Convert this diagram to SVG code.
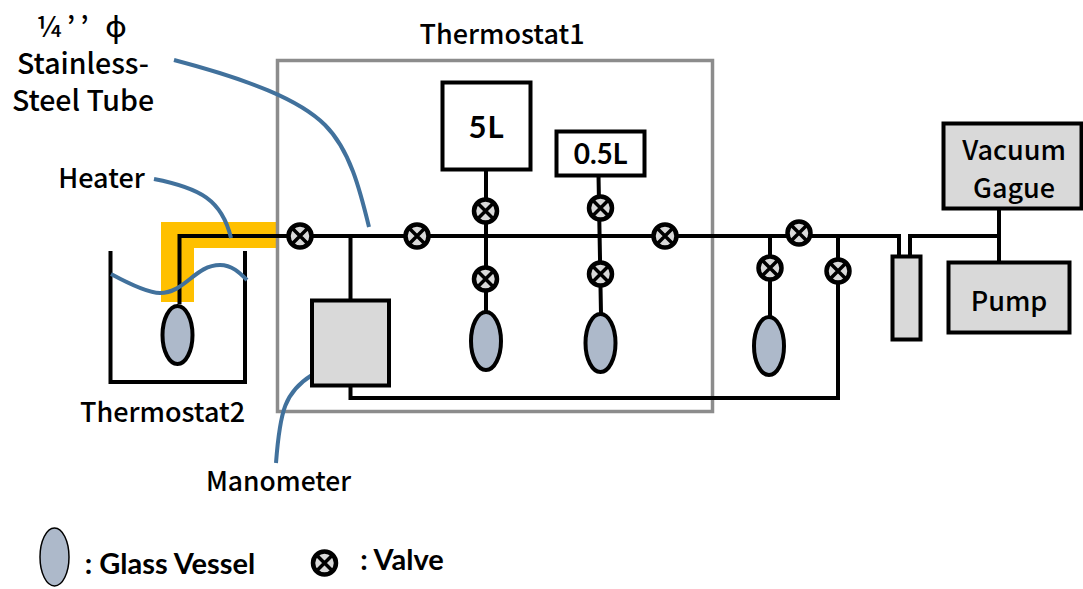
<svg xmlns="http://www.w3.org/2000/svg" width="1083" height="589" viewBox="0 0 1083 589">
<style>
.t{font-family:"Noto Sans CJK JP","Noto Sans",sans-serif;font-weight:500;font-size:27px;fill:#000;text-anchor:middle}
.s{font-size:28.5px}
.c{font-family:Lato,"Open Sans",sans-serif;font-weight:700;font-size:29px;fill:#000;text-anchor:middle}
.w{fill:none;stroke:#000;stroke-width:4}
.b{fill:#d9d9d9;stroke:#000;stroke-width:4}
.o{fill:#fff;stroke:#000;stroke-width:4}
.v{fill:#adb9ca;stroke:#000;stroke-width:4}
.l{fill:none;stroke:#41719c;stroke-width:4}
</style>
<defs>
<g id="valve"><circle r="11.5" fill="#d9d9d9" stroke="#000" stroke-width="4.500"/><path d="M-7-7L7 7M7-7L-7 7" stroke="#000" stroke-width="3.500" fill="none"/></g>
</defs>
<g id="heater"><path d="M161 222H276V248H194V302H161Z" fill="#ffc000"/></g>
<g id="thermostat1"><rect x="277.500" y="60.500" width="435" height="351" fill="none" stroke="#8c8c8c" stroke-width="3.500"/><text class="t" x="502" y="44">Thermostat1</text></g>
<g id="thermostat2"><path class="w" d="M110.500 251V382H245V251"/><text class="t" x="162.500" y="422">Thermostat2</text></g>
<g id="connectors">
<path class="w" d="M179.500 304V236H899V256M910 256V236H999"/>
<path class="w" d="M350.500 236V300M350.500 386V398H838V236"/>
<path class="w" d="M486 169V312M598.500 175L601 314M770 236V317M999 208V262"/>
</g>
<g id="leaders">
<path class="l" d="M174 60C250 80 300 100 325 125C350 150 360 190 369 227"/>
<path class="l" d="M154 179C200 188 222 200 231 238"/>
<path class="l" d="M111 274C135 287 150 293 160 293C185 293 195 265 220 265C232 265 240 273 247 280"/>
<path class="l" d="M312 375C285 392 280 410 276 463"/>
</g>
<g id="tube-label"><text class="t s" x="84" y="37" style="letter-spacing:5px">¼’’ ϕ</text><text class="t s" x="83" y="74">Stainless-</text><text class="t s" x="83" y="111">Steel Tube</text></g>
<g id="heater-label"><text class="t" x="101.500" y="188">Heater</text></g>
<g id="manometer"><rect class="b" x="312" y="300.500" width="77" height="85"/><text class="t" x="278.500" y="491" style="font-size:26.400px">Manometer</text></g>
<g id="tank-5l"><rect class="o" x="442.500" y="82.500" width="88" height="87"/><text class="c" x="486.500" y="138" style="font-size:31px;letter-spacing:1px">5L</text></g>
<g id="tank-05l"><rect class="o" x="556.500" y="131.500" width="88" height="44"/><text class="c" x="600.500" y="164" style="font-size:28px">0.5L</text></g>
<g id="vacuum-gauge"><rect class="b" x="943.500" y="123.500" width="138" height="85"/><text class="t" x="1014" y="160">Vacuum</text><text class="t" x="1014" y="198">Gague</text></g>
<g id="pump"><rect class="b" x="948.500" y="262.500" width="121" height="70"/><text class="t" x="1009" y="311">Pump</text></g>
<g id="trap"><rect class="b" x="892.500" y="256.500" width="28" height="83"/></g>
<g id="vessels">
<ellipse class="v" cx="177.500" cy="335" rx="15" ry="29"/>
<ellipse class="v" cx="486" cy="341" rx="15" ry="29"/>
<ellipse class="v" cx="600.500" cy="343" rx="15" ry="29"/>
<ellipse class="v" cx="769" cy="346" rx="15" ry="29"/>
</g>
<g id="valves">
<use href="#valve" x="300" y="236"/>
<use href="#valve" x="417" y="236"/>
<use href="#valve" x="485.500" y="211"/>
<use href="#valve" x="485.500" y="279"/>
<use href="#valve" x="600.500" y="208"/>
<use href="#valve" x="600.500" y="274"/>
<use href="#valve" x="665" y="236"/>
<use href="#valve" x="799" y="233"/>
<use href="#valve" x="770" y="268"/>
<use href="#valve" x="838" y="271"/>
</g>
<g id="legend-vessel"><ellipse cx="54.500" cy="557" rx="14.500" ry="29" fill="#adb9ca" stroke="#000" stroke-width="1.500"/><text class="c" x="170" y="574">: Glass Vessel</text></g>
<g id="legend-valve"><use href="#valve" x="324.500" y="563"/><text class="c" x="402" y="570">: Valve</text></g>
</svg>
